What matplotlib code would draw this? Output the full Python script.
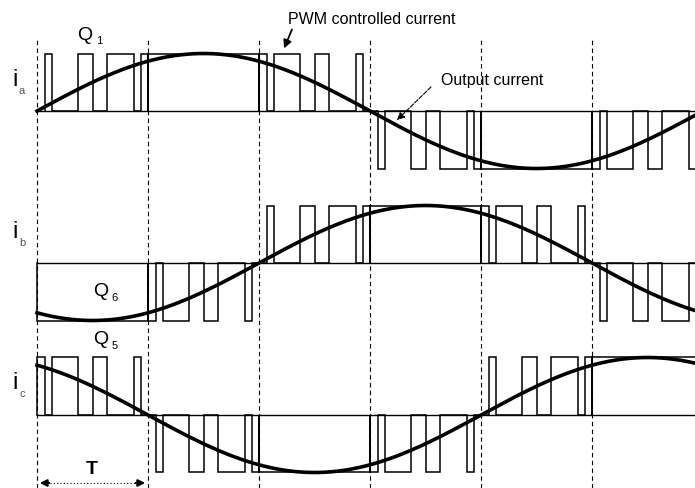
import numpy as np
import matplotlib.pyplot as plt

plt.rcParams['font.family'] = ['Liberation Sans', 'DejaVu Sans']

# sector boundaries, electrical degrees
sectors = [0, 60, 120, 180, 240, 300]

# pulse edges inside one 60 deg sector (degrees from sector start)
rise_pulses = [(4.5, 8.0), (22.0, 30.0), (38.0, 52.5), (56.0, 60.0)]
fall_pulses = [(0.0, 4.5), (8.0, 22.0), (30.0, 38.0), (52.5, 56.0)]
on_pulses = [(0.0, 60.0)]

# which pattern each phase uses in each sector, and the current sign
ia_modes = ['rise', 'on', 'fall', 'rise', 'on', 'fall']
ia_signs = [1, 1, 1, -1, -1, -1]
ib_modes = ['on', 'fall', 'rise', 'on', 'fall', 'rise']
ib_signs = [-1, -1, 1, 1, 1, -1]
ic_modes = ['fall', 'rise', 'on', 'fall', 'rise', 'on']
ic_signs = [1, -1, -1, -1, 1, 1]

phase_shift = [0, -120, 120]      # degrees
phase_sub = ['a', 'b', 'c']

patterns = {'rise': rise_pulses, 'fall': fall_pulses, 'on': on_pulses}

# layout (pixel picture is 695 x 488)
W, H = 695, 488
x0_px, sector_px = 37, 111
amp_px = 57.5
base_px = [111, 263, 415]


def to_deg(xp):
    return (xp - x0_px) * 60 / sector_px


def to_unit(yp):
    return (base_px[0] - yp) / amp_px


offsets = [to_unit(b) for b in base_px]
x_left, x_right = to_deg(0), to_deg(W)

fig = plt.figure(figsize=(W / 100, H / 100), dpi=100)
ax = fig.add_axes([0, 0, 1, 1])
ax.set_xlim(x_left, x_right)
ax.set_ylim(to_unit(H), to_unit(0))
ax.axis('off')

# dashed sector lines
ax.vlines(sectors, to_unit(H), to_unit(37), colors='k', linewidth=0.8,
          linestyles=(0, (4, 3)))

theta = np.linspace(0, x_right, 1500)
all_modes = [ia_modes, ib_modes, ic_modes]
all_signs = [ia_signs, ib_signs, ic_signs]

for k in range(3):
    off = offsets[k]
    # zero line
    ax.plot([0, x_right], [off, off], color='k', linewidth=1.0)
    # PWM controlled current
    xs, ys = [], []
    for s0, mode, sign in zip(sectors, all_modes[k], all_signs[k]):
        for a, b in patterns[mode]:
            xs += [s0 + a, s0 + a, s0 + b, s0 + b]
            ys += [off, off + sign, off + sign, off]
    ax.plot(xs, ys, color='k', linewidth=1.1, solid_joinstyle='miter')
    # output current
    ax.plot(theta, off + np.sin(np.radians(theta + phase_shift[k])),
            color='k', linewidth=2.6, zorder=5)


def P(xp, yp):
    return (xp / W, 1 - yp / H)


tf = fig.transFigure

# phase labels
label_y = [80, 232, 383]
for k in range(3):
    fig.text(*P(15, label_y[k]), 'i', transform=tf, fontsize=17,
             ha='center', va='center')
    fig.text(*P(22, label_y[k] + 11), phase_sub[k], transform=tf,
             fontsize=8, color='#555555', ha='center', va='center')

# switch labels
q_labels = [('Q', '1', 85, 35), ('Q', '6', 101, 292), ('Q', '5', 101, 340)]
for q, sub, xq, yq in q_labels:
    fig.text(*P(xq, yq), q, transform=tf, fontsize=14, ha='center',
             va='center')
    fig.text(*P(xq + 14, yq + 6), sub, transform=tf, fontsize=8,
             ha='center', va='center')

# annotations
fig.text(*P(372, 19), 'PWM controlled current', transform=tf,
         fontsize=11.5, ha='center', va='center')
ax.annotate('', xy=P(283, 51), xytext=P(293, 27), xycoords=tf,
            textcoords=tf,
            arrowprops=dict(arrowstyle='-|>', color='k', lw=1.3,
                            mutation_scale=12))

fig.text(*P(492, 80), 'Output current', transform=tf,
         fontsize=11.5, ha='center', va='center')
ax.annotate('', xy=P(395, 122), xytext=P(433, 85), xycoords=tf,
            textcoords=tf,
            arrowprops=dict(arrowstyle='-|>', color='k', lw=0.8,
                            linestyle=(0, (4, 1.5)), mutation_scale=11))

# period marker
fig.text(*P(92, 470), 'T', transform=tf, fontsize=14, fontweight='bold',
         ha='center', va='center')
ax.plot([to_deg(50), to_deg(135)], [to_unit(483), to_unit(483)],
        color='k', linewidth=0.8, linestyle=(0, (1, 2)))
ax.annotate('', xy=(to_deg(37), to_unit(483)),
            xytext=(to_deg(52), to_unit(483)),
            arrowprops=dict(arrowstyle='-|>', color='k', lw=1.5,
                            mutation_scale=10))
ax.annotate('', xy=(to_deg(148), to_unit(483)),
            xytext=(to_deg(133), to_unit(483)),
            arrowprops=dict(arrowstyle='-|>', color='k', lw=1.5,
                            mutation_scale=10))

fig.savefig('out.png', dpi=100)
